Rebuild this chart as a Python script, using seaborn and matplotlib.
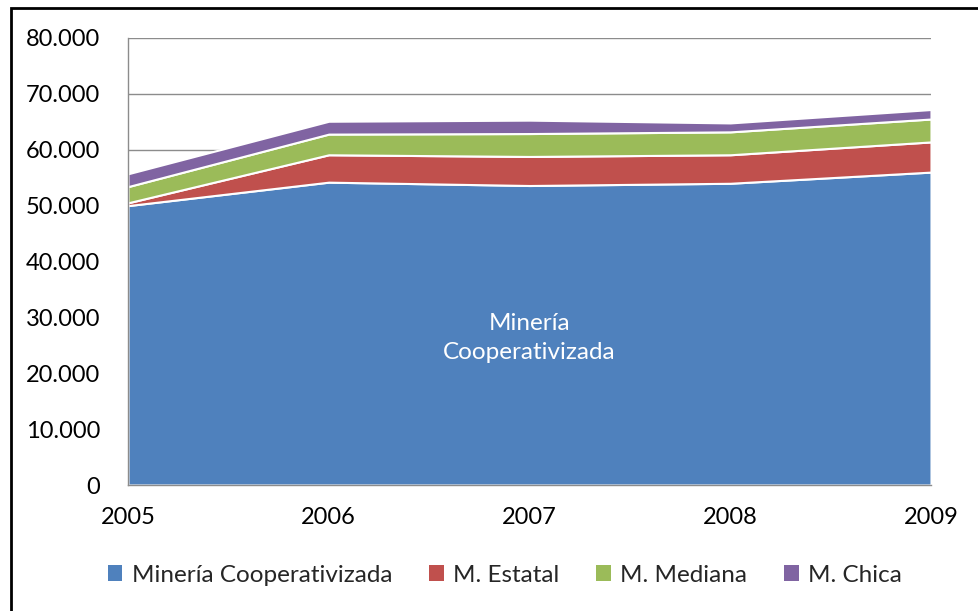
import matplotlib
matplotlib.use("Agg")
import matplotlib.pyplot as plt
from matplotlib.patches import Rectangle
import seaborn as sns
import numpy as np

years = [2005, 2006, 2007, 2008, 2009]
cooperativizada = [50000, 54200, 53600, 54000, 56000]
estatal = [500, 4900, 5200, 5100, 5400]
mediana = [2900, 3700, 4100, 4100, 4100]
chica = [2300, 2300, 2400, 1600, 1700]

series_names = ["Minería Cooperativizada", "M. Estatal", "M. Mediana", "M. Chica"]
series_colors = ["#4F81BD", "#C0504D", "#9BBB59", "#8064A2"]
y_ticks = [0, 10000, 20000, 30000, 40000, 50000, 60000, 70000, 80000]
y_tick_labels = ["0", "10.000", "20.000", "30.000", "40.000", "50.000",
                 "60.000", "70.000", "80.000"]

sns.set_theme(style="white")
plt.rcParams["font.family"] = ["Lato", "DejaVu Sans"]

fig = plt.figure(figsize=(9.79, 6.11), dpi=100)
ax = fig.add_axes([128 / 979, 1 - 485 / 611, (931 - 128) / 979, (485 - 38) / 611])

stacks = ax.stackplot(years, cooperativizada, estatal, mediana, chica,
                      colors=series_colors, labels=series_names,
                      edgecolor="white", linewidth=1.5, zorder=2)

ax.set_xlim(2005, 2009)
ax.set_ylim(0, 80000)
ax.set_yticks(y_ticks)
ax.set_yticklabels(y_tick_labels)
ax.set_xticks(years)
ax.set_xticklabels([str(y) for y in years])
ax.yaxis.grid(True, color="#8C8C8C", linewidth=1.0, zorder=0)
ax.xaxis.grid(False)
ax.set_axisbelow(True)

for side in ["top", "right"]:
    ax.spines[side].set_visible(False)
for side in ["left", "bottom"]:
    ax.spines[side].set_color("#8C8C8C")
    ax.spines[side].set_linewidth(1.0)

ax.tick_params(axis="both", which="both", labelsize=17, colors="black",
               length=6, width=1.0, color="#8C8C8C")
ax.tick_params(axis="x", direction="out", pad=10)
ax.tick_params(axis="y", direction="out", pad=10, length=10)

ax.text(2007.0, 26300, "Minería\nCooperativizada", ha="center", va="center",
        color="white", fontsize=17.5, linespacing=1.45, zorder=3)

handles = [Rectangle((0, 0), 1, 1, facecolor=c, edgecolor="none") for c in series_colors]
fig.legend(handles, series_names, loc="center", bbox_to_anchor=(505 / 979, 1 - 575 / 611),
           ncol=4, frameon=False, fontsize=17.5, handlelength=0.6, handleheight=0.6,
           handletextpad=0.4, columnspacing=1.5)

# outer frame of the figure
fig.add_artist(Rectangle((10.5 / 979, -0.05), 1.2, 1 - 7.5 / 611 + 0.05,
                         transform=fig.transFigure, fill=False,
                         edgecolor="black", linewidth=2.0))

fig.savefig("out.png", dpi=100)
